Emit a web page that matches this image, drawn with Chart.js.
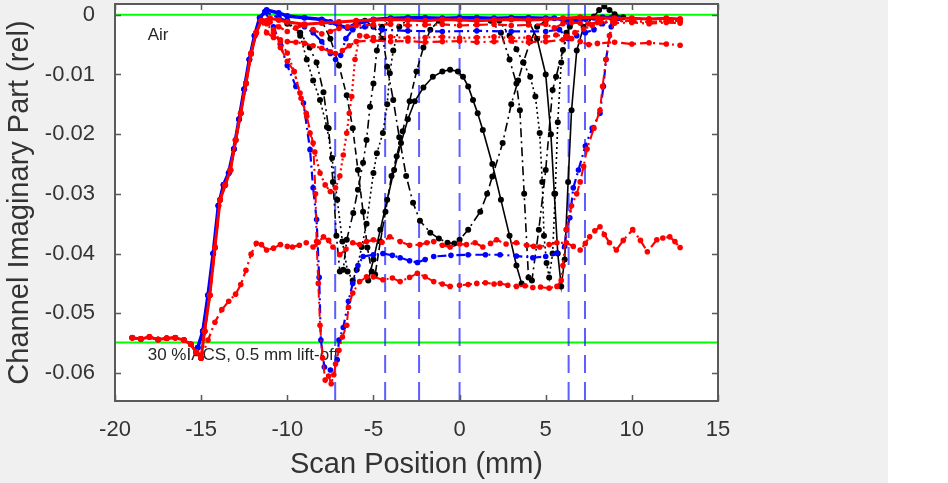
<!DOCTYPE html>
<html>
<head>
<meta charset="utf-8">
<script src="https://cdn.jsdelivr.net/npm/chart.js@4.4.1/dist/chart.umd.min.js"></script>
<style>
  html, body { margin: 0; padding: 0; background: #fff; }
  canvas { display: block; }
</style>
</head>
<body>
<canvas id="scan" width="948" height="483"></canvas>
<script>
// axis ticks
const xTicks = [-20, -15, -10, -5, 0, 5, 10, 15];
const yTicks = [0, -0.01, -0.02, -0.03, -0.04, -0.05, -0.06];
const xMin = -20, xMax = 15;
const yMin = -0.0647, yMax = 0.0018;

// reference lines
const vlineX = [-7.22, -4.32, -2.35, 0, 6.33, 7.28];
const greenLevels = [0, -0.0549];

// shared start of the red scans (flat on the block, then the edge)
const redLeftX = [-19, -18.5, -18, -17.5, -17, -16.5, -16, -15.6, -15.3, -15.0];
const redLeftY = [-0.0541, -0.0543, -0.0540, -0.0544, -0.0542, -0.0541, -0.0545, -0.0552, -0.0565, -0.0575];
const redRampX = [-14.8, -14.5, -14.2, -13.9, -13.6, -13.3, -13.0, -12.7, -12.4, -12.1, -11.8, -11.5];
const redRampY = [-0.053, -0.047, -0.039, -0.031, -0.0285, -0.026, -0.021, -0.0165, -0.0115, -0.0065, -0.003, -0.001];

const blueRampX = [-15.2, -14.9, -14.6, -14.3, -14.0, -13.7, -13.4, -13.1, -12.8, -12.5, -12.2, -11.9, -11.6];
const blueRampY = [-0.0558, -0.053, -0.047, -0.040, -0.032, -0.0285, -0.0265, -0.0225, -0.0175, -0.0125, -0.0075, -0.0035, -0.0005];

// red scans after the edge
const redTopX = [-11.0, -10.5, -10.0, -9, -8, -7, -6, -5, -4, -3, -2, -1, 0, 1, 2, 3, 4, 5, 6, 7, 8, 9, 10, 11, 12, 12.8];
const redTopY = [-0.0006, -0.0009, -0.0012, -0.0016, -0.0014, -0.0012, -0.001, -0.0009, -0.0008, -0.0009, -0.001, -0.0008, -0.0009, -0.001, -0.0009, -0.0008, -0.0009, -0.0008, -0.0006, -0.0004, -0.0005, -0.0006, -0.0006, -0.0007, -0.0006, -0.0007];

const redMidX = [-11.0, -10.5, -10.0, -9.5, -9.0, -8.5, -8.0, -7.5, -7.0, -6.5, -6.0, -5, -4, -3, -2, -1, 0, 1, 2, 3, 4, 5, 5.5, 6, 6.5, 7, 7.5, 8, 9, 10, 11, 12, 12.8];
const redMidY = [-0.0012, -0.002, -0.0028, -0.0022, -0.0018, -0.0025, -0.0032, -0.0028, -0.0023, -0.002, -0.0018, -0.0017, -0.0016, -0.0018, -0.0017, -0.0016, -0.0018, -0.0017, -0.0016, -0.0018, -0.0017, -0.0016, -0.0022, -0.0015, -0.0013, -0.0014, -0.0015, -0.0013, -0.0014, -0.0013, -0.0015, -0.0013, -0.0014];

const redLowX = [-11.2, -10.8, -10.4, -10, -9.5, -9, -8.5, -8, -7.5, -7.2, -6.8, -6.4, -6, -5, -4, -3, -2, -1, 0, 1, 2, 3, 4, 5, 6, 6.5, 7, 7.5, 8, 9, 10, 11, 12, 12.8];
const redLowY = [-0.003, -0.0038, -0.0042, -0.0045, -0.0046, -0.0048, -0.0052, -0.0056, -0.0062, -0.0065, -0.006, -0.0052, -0.0045, -0.0043, -0.0045, -0.0044, -0.0046, -0.0045, -0.0044, -0.0046, -0.0045, -0.0044, -0.0046, -0.0045, -0.0042, -0.004, -0.0045, -0.005, -0.0048, -0.0046, -0.0049, -0.0047, -0.0049, -0.0051];

const redVX = [-11.2, -10.8, -10.4, -10.0, -9.6, -9.26, -8.9, -8.68, -8.4, -8.1, -7.8, -7.5, -7.2, -6.95, -6.75, -6.55, -6.4, -6.26, -6.07, -5.8, -5.4, -5, -4, -3, -2, -1, 0, 1, 2, 3, 4, 5, 5.6, 6.2, 6.7, 7.2, 7.7, 8.2, 9, 10, 11, 12, 12.8];
const redVY = [-0.0012, -0.0025, -0.0045, -0.0064, -0.0095, -0.0131, -0.0165, -0.0198, -0.023, -0.0265, -0.0285, -0.0296, -0.029, -0.027, -0.0235, -0.0198, -0.0165, -0.0137, -0.0075, -0.0035, -0.0036, -0.0038, -0.0037, -0.0039, -0.0038, -0.0037, -0.0039, -0.0038, -0.0037, -0.0039, -0.0038, -0.0037, -0.0034, -0.0036, -0.003, -0.0024, -0.0018, -0.0012, -0.001, -0.0011, -0.0012, -0.0011, -0.001];

const redDeepX = [-11.2, -10.8, -10.4, -10.0, -9.6, -9.2, -8.87, -8.5, -8.36, -8.3, -8.2, -8.1, -7.95, -7.8, -7.6, -7.45, -7.3, -7.2, -7.0, -6.8, -6.55, -6.45, -6.2, -5.8, -5.4, -5.0, -4.45, -3.9, -3.45, -2.9, -2.45, -2.0, -1.5, -1.0, -0.55, 0, 0.5, 1.0, 1.5, 2.0, 2.35, 2.8, 3.3, 3.8, 4.25, 4.7, 5.2, 5.65, 5.9, 6.0, 6.2, 6.5, 6.8, 7.0, 7.2, 7.4, 7.8, 8.15, 8.3, 8.5, 8.7, 9.0, 10, 11, 12, 12.8];
const redDeepY = [-0.0015, -0.003, -0.0055, -0.0078, -0.0095, -0.014, -0.017, -0.0215, -0.030, -0.038, -0.045, -0.052, -0.0575, -0.0612, -0.0605, -0.0618, -0.0603, -0.0585, -0.0562, -0.054, -0.052, -0.049, -0.0466, -0.0447, -0.0439, -0.0439, -0.0444, -0.0441, -0.0447, -0.044, -0.0433, -0.0439, -0.0447, -0.0451, -0.0455, -0.0453, -0.0452, -0.045, -0.0449, -0.0451, -0.045, -0.0453, -0.0455, -0.0454, -0.0457, -0.0456, -0.0458, -0.0455, -0.0445, -0.042, -0.036, -0.032, -0.030, -0.028, -0.0254, -0.0225, -0.019, -0.016, -0.012, -0.0075, -0.0035, -0.0012, -0.001, -0.0012, -0.001, -0.0011];

// red scan with the slow rise (starts on the flat part)
const redSlowX = [-14.6, -14.2, -13.8, -13.4, -13.0, -12.7, -12.4, -12.1, -11.8, -11.5, -11.2, -10.8, -10.4, -10.0, -9.7, -9.3, -8.9, -8.5, -8.2, -7.9, -7.6, -7.35, -6.95, -6.6, -6.2, -5.8, -5.4, -5.0, -4.5, -4.05, -3.45, -2.9, -2.3, -1.9, -1.5, -1.0, -0.55, 0, 0.4, 0.9, 1.35, 1.8, 2.15, 2.7, 3.3, 3.9, 4.3, 4.65, 5.2, 5.65, 6.2, 6.6, 7.0, 7.3, 7.55, 7.85, 8.15, 8.4, 8.7, 9.1, 9.5, 10.05, 10.5, 10.9, 11.45, 11.8, 12.2, 12.5, 12.8];
const redSlowY = [-0.0545, -0.0515, -0.0494, -0.048, -0.0468, -0.0452, -0.0428, -0.0401, -0.0383, -0.0385, -0.0394, -0.0391, -0.0385, -0.0388, -0.0389, -0.0386, -0.0382, -0.0389, -0.0381, -0.0372, -0.0378, -0.0389, -0.0402, -0.0393, -0.0382, -0.0385, -0.038, -0.0377, -0.0381, -0.0372, -0.038, -0.0386, -0.0385, -0.0382, -0.038, -0.0386, -0.0389, -0.0384, -0.0385, -0.0382, -0.0389, -0.0383, -0.0377, -0.0384, -0.0382, -0.0386, -0.0388, -0.0389, -0.0385, -0.0382, -0.0382, -0.0388, -0.0394, -0.0383, -0.0372, -0.0362, -0.0355, -0.0368, -0.0382, -0.0394, -0.0378, -0.036, -0.0378, -0.0397, -0.0377, -0.0374, -0.0372, -0.038, -0.039];

// blue scans after the edge
const blueTopX = [-11.2, -10.5, -10, -9, -8, -7.5, -7, -6.5, -6, -5, -4, -3, -2, -1, 0, 1, 2, 3, 4, 5, 5.5, 6, 6.3, 6.8, 7.3, 7.8, 8.3, 8.8, 9.2];
const blueTopY = [0.0008, 0.0003, -0.0002, -0.0005, -0.0008, -0.0012, -0.0018, -0.0022, -0.0015, -0.0008, -0.0006, -0.0005, -0.0005, -0.0006, -0.0005, -0.0005, -0.0006, -0.0005, -0.0005, -0.0006, -0.0006, -0.0008, -0.0012, -0.0009, -0.0007, -0.0005, -0.0004, -0.0005, -0.0006];

const blueDipX = [-11.3, -10.5, -10, -9, -8.5, -8, -7.5, -7.2, -6.9, -6.6, -6.2, -5.5, -4.5, -3, -1, 1, 3, 5, 5.8, 6.3, 6.8, 7.3, 7.8, 8.3, 9];
const blueDipY = [0.0005, -0.0005, -0.001, -0.002, -0.003, -0.0045, -0.0065, -0.0075, -0.0068, -0.004, -0.0025, -0.002, -0.0025, -0.0027, -0.0028, -0.0027, -0.0028, -0.0028, -0.0025, -0.004, -0.0035, -0.003, -0.0025, -0.0015, -0.0008];

const blueDeepX = [-11.3, -10.8, -10.4, -10, -9.5, -9.06, -8.68, -8.5, -8.3, -8.15, -8.05, -7.85, -7.5, -7.1, -7.0, -6.75, -6.45, -6.2, -5.9, -5.6, -5.0, -4.45, -3.9, -3.45, -2.9, -2.45, -2.0, -1.5, -0.5, 0.5, 1.5, 2.35, 3.3, 4.25, 5.0, 5.65, 6.1, 6.2, 6.4, 6.6, 6.9, 7.3, 7.7, 8.15, 8.35, 8.5, 8.8, 9.0];
const blueDeepY = [0.0005, -0.002, -0.005, -0.0085, -0.012, -0.0148, -0.0226, -0.029, -0.0343, -0.044, -0.0545, -0.059, -0.0595, -0.0578, -0.0545, -0.0524, -0.048, -0.045, -0.042, -0.0405, -0.0402, -0.040, -0.0403, -0.0407, -0.0412, -0.0415, -0.041, -0.0405, -0.0403, -0.0402, -0.0402, -0.0402, -0.0404, -0.0407, -0.0405, -0.0399, -0.0388, -0.036, -0.034, -0.029, -0.026, -0.022, -0.019, -0.0165, -0.012, -0.0075, -0.002, -0.0008];

// black channel responses
const blackAX = [-10.5, -10, -9.25, -8.7, -8.3, -7.9, -7.6, -7.35, -7.15, -6.95, -6.75, -6.55, -6.17, -5.9, -5.6, -5.4, -5.2, -5.0, -4.8, -4.5, -4.0, -3.0];
const blackAY = [-0.0005, -0.0015, -0.003, -0.0055, -0.008, -0.013, -0.019, -0.028, -0.037, -0.043, -0.0427, -0.0377, -0.0332, -0.0293, -0.0248, -0.021, -0.0154, -0.0115, -0.006, -0.002, -0.0008, -0.0006];

const blackBX = [-10, -9.25, -8.87, -8.5, -8.1, -7.7, -7.4, -7.1, -6.8, -6.5, -6.2, -5.97, -5.68, -5.4, -5.0, -4.8, -4.45, -4.2, -4.05, -3.85, -3.5, -3.0];
const blackBY = [-0.001, -0.0035, -0.0075, -0.011, -0.0143, -0.0188, -0.024, -0.031, -0.038, -0.043, -0.0445, -0.0427, -0.0389, -0.035, -0.0265, -0.0232, -0.0198, -0.015, -0.0098, -0.006, -0.002, -0.0008];

const blackCX = [-8.0, -7.5, -7.0, -6.55, -6.2, -5.9, -5.6, -5.35, -5.1, -4.9, -4.6, -4.3, -3.95, -3.65, -3.3, -2.9, -2.5, -2.1, -1.7, -1.2];
const blackCY = [-0.001, -0.004, -0.0085, -0.0135, -0.019, -0.026, -0.033, -0.039, -0.043, -0.0435, -0.038, -0.033, -0.027, -0.0237, -0.0195, -0.0145, -0.0095, -0.0055, -0.0025, -0.001];

const blackUX = [-5.5, -5.0, -4.45, -4.2, -3.85, -3.5, -3.1, -2.7, -2.3, -1.7, -1.2, -0.7, -0.3, 0, 0.5, 1.2, 1.6, 1.9, 2.5, 3.0, 3.4, 3.7, 4.1, 4.5, 5.0];
const blackUY = [-0.001, -0.002, -0.004, -0.0087, -0.0143, -0.0205, -0.027, -0.0315, -0.0345, -0.0365, -0.0375, -0.0382, -0.0383, -0.0377, -0.036, -0.033, -0.030, -0.0271, -0.0215, -0.015, -0.011, -0.008, -0.0045, -0.002, -0.001];

const blackArchX = [-5.3, -5.0, -4.6, -4.2, -3.8, -3.4, -3.0, -2.6, -2.1, -1.55, -1.0, -0.55, -0.1, 0.2, 0.5, 0.78, 1.05, 1.35, 1.9, 2.4, 2.9, 3.3, 3.6];
const blackArchY = [-0.0445, -0.041, -0.036, -0.031, -0.026, -0.0215, -0.0175, -0.0145, -0.0122, -0.0104, -0.0095, -0.0092, -0.0095, -0.0104, -0.012, -0.0143, -0.0165, -0.0193, -0.025, -0.031, -0.037, -0.042, -0.045];

const blackDX = [2.3, 2.9, 3.3, 3.7, 4.1, 4.4, 4.65, 4.8, 4.9, 5.05, 5.2, 5.4, 5.55, 5.7, 5.9, 6.2, 6.6];
const blackDY = [-0.001, -0.0035, -0.0058, -0.008, -0.0104, -0.0137, -0.0198, -0.028, -0.037, -0.0416, -0.044, -0.040, -0.030, -0.018, -0.008, -0.003, -0.001];

const blackEX = [1.8, 2.4, 2.9, 3.3, 3.5, 3.75, 4.0, 4.2, 4.6, 5.0, 5.4, 5.6, 6.0, 6.4, 7.0];
const blackEY = [-0.001, -0.003, -0.0075, -0.0115, -0.016, -0.03, -0.044, -0.0445, -0.036, -0.026, -0.0126, -0.0104, -0.0059, -0.002, -0.0008];

const blackFX = [4.0, 4.5, 5.0, 5.3, 5.5, 5.7, 5.9, 6.1, 6.3, 6.5, 6.8, 7.2, 7.8, 8.1, 8.4, 8.7, 9.0, 9.5];
const blackFY = [-0.001, -0.004, -0.01, -0.02, -0.03, -0.040, -0.0455, -0.041, -0.028, -0.016, -0.006, -0.002, -0.0003, 0.0008, 0.0014, 0.0008, 0.0001, -0.0004];

function pts(xs, ys) {
    return xs.map((x, i) => ({ x: x, y: ys[i] }));
}

const dashDot = [9, 4, 2, 4];
const dotted = [2, 3];
const dashed = [7, 4];

function scanSet(data, color, dash, order, width, radius) {
    return {
        data: data,
        borderColor: color,
        backgroundColor: color,
        borderWidth: width,
        borderDash: dash,
        pointRadius: radius,
        pointBorderWidth: 0,
        pointBackgroundColor: color,
        tension: 0,
        order: order
    };
}

const datasets = [];

// vertical channel markers and green levels, drawn under the scans
vlineX.forEach(v => {
    datasets.push({
        data: [{ x: v, y: yMax }, { x: v, y: yMin }],
        borderColor: 'rgba(40, 40, 255, 0.75)',
        borderWidth: 2,
        borderDash: [18, 9],
        pointRadius: 0,
        order: 10
    });
});
greenLevels.forEach(g => {
    datasets.push({
        data: [{ x: xMin, y: g }, { x: xMax, y: g }],
        borderColor: '#00ff00',
        borderWidth: 2,
        pointRadius: 0,
        order: 10
    });
});

const red = '#ff0000', blue = '#0000ff', black = '#000000';

datasets.push(scanSet(pts(redLeftX.concat(redRampX, redTopX), redLeftY.concat(redRampY, redTopY)), red, [], 1, 3, 3));
datasets.push(scanSet(pts(redLeftX.concat(redRampX, redMidX), redLeftY.concat(redRampY, redMidY)), red, dashDot, 1, 2.2, 2.8));
datasets.push(scanSet(pts(redLeftX.concat(redRampX, redLowX), redLeftY.concat(redRampY, redLowY)), red, dashDot, 1, 2.2, 2.8));
datasets.push(scanSet(pts(redLeftX.concat(redRampX, redVX), redLeftY.concat(redRampY, redVY)), red, dotted, 1, 2.2, 2.8));
datasets.push(scanSet(pts(redLeftX.concat(redRampX, redDeepX), redLeftY.concat(redRampY, redDeepY)), red, dashDot, 1, 2, 2.8));
datasets.push(scanSet(pts(redLeftX.concat(redSlowX), redLeftY.concat(redSlowY)), red, dashDot, 1, 2.2, 2.8));

datasets.push(scanSet(pts(blueRampX.concat(blueTopX), blueRampY.concat(blueTopY)), blue, [], 2, 3.5, 3));
datasets.push(scanSet(pts(blueRampX.concat(blueDipX), blueRampY.concat(blueDipY)), blue, dashDot, 2, 2.2, 2.8));
datasets.push(scanSet(pts(blueRampX.concat(blueDeepX), blueRampY.concat(blueDeepY)), blue, dashDot, 2, 2.2, 2.8));

datasets.push(scanSet(pts(blackAX, blackAY), black, dashDot, 3, 1.6, 3));
datasets.push(scanSet(pts(blackBX, blackBY), black, dotted, 3, 1.6, 3));
datasets.push(scanSet(pts(blackCX, blackCY), black, dashed, 3, 1.6, 3));
datasets.push(scanSet(pts(blackUX, blackUY), black, dashDot, 3, 1.6, 3));
datasets.push(scanSet(pts(blackArchX, blackArchY), black, [], 3, 1.6, 3));
datasets.push(scanSet(pts(blackDX, blackDY), black, dotted, 3, 1.6, 3));
datasets.push(scanSet(pts(blackEX, blackEY), black, dashDot, 3, 1.6, 3));
datasets.push(scanSet(pts(blackFX, blackFY), black, [], 3, 1.6, 3));

// figure background: grey panel, white strip on the right
const backgroundPlugin = {
    id: 'figureBackground',
    beforeDraw(chart) {
        const { ctx, chartArea: a } = chart;
        ctx.save();
        ctx.fillStyle = '#ffffff';
        ctx.fillRect(0, 0, chart.width, chart.height);
        ctx.fillStyle = '#f0f0f0';
        ctx.fillRect(0, 0, 888, chart.height);
        ctx.fillStyle = '#ffffff';
        ctx.fillRect(a.left, a.top, a.right - a.left, a.bottom - a.top);
        ctx.restore();
    }
};

// text labels inside the axes, under the data
const notesPlugin = {
    id: 'notes',
    beforeDatasetsDraw(chart) {
        const { ctx, scales: { x, y } } = chart;
        ctx.save();
        ctx.fillStyle = '#262626';
        ctx.font = '17px "Liberation Sans", Arial, sans-serif';
        ctx.textAlign = 'left';
        ctx.textBaseline = 'middle';
        ctx.fillText('Air', x.getPixelForValue(-18.1), y.getPixelForValue(-0.0034));
        ctx.fillText('30 %IACS, 0.5 mm lift-off', x.getPixelForValue(-18.1), y.getPixelForValue(-0.0570));
        ctx.restore();
    }
};

// MATLAB style box with inward ticks
const boxPlugin = {
    id: 'axesBox',
    afterDraw(chart) {
        const { ctx, chartArea: a, scales: { x, y } } = chart;
        ctx.save();
        ctx.strokeStyle = '#5a5a5a';
        ctx.lineWidth = 1.5;
        ctx.beginPath();
        xTicks.forEach(v => {
            const px = Math.round(x.getPixelForValue(v)) + 0.5;
            ctx.moveTo(px, a.bottom); ctx.lineTo(px, a.bottom - 6);
            ctx.moveTo(px, a.top); ctx.lineTo(px, a.top + 6);
        });
        yTicks.forEach(v => {
            const py = Math.round(y.getPixelForValue(v)) + 0.5;
            ctx.moveTo(a.left, py); ctx.lineTo(a.left + 6, py);
            ctx.moveTo(a.right, py); ctx.lineTo(a.right - 6, py);
        });
        ctx.stroke();
        ctx.lineWidth = 2;
        ctx.strokeRect(a.left, a.top, a.right - a.left, a.bottom - a.top);
        ctx.restore();
    }
};

Chart.defaults.font.family = '"Liberation Sans", Arial, Helvetica, sans-serif';
Chart.defaults.color = '#333333';

new Chart(document.getElementById('scan').getContext('2d'), {
    type: 'line',
    data: { datasets: datasets },
    options: {
        responsive: false,
        animation: false,
        layout: { padding: { left: 0, top: 4, right: 230, bottom: 0 } },
        plugins: {
            legend: { display: false },
            tooltip: { enabled: false }
        },
        scales: {
            x: {
                type: 'linear',
                min: xMin,
                max: xMax,
                grid: { display: false },
                border: { display: false },
                afterFit(scale) {
                    scale.height = 82;
                    scale.paddingLeft = 0;
                    scale.paddingRight = 0;
                },
                afterBuildTicks(scale) { scale.ticks = xTicks.map(v => ({ value: v })); },
                ticks: {
                    padding: 8,
                    maxRotation: 0,
                    font: { size: 22 },
                    color: '#333333',
                    callback: v => String(v)
                },
                title: {
                    display: true,
                    text: 'Scan Position (mm)',
                    font: { size: 29 },
                    color: '#333333',
                    padding: { top: 0, bottom: 1 }
                }
            },
            y: {
                type: 'linear',
                min: yMin,
                max: yMax,
                grid: { display: false },
                border: { display: false },
                afterFit(scale) {
                    scale.width = 115;
                    scale.paddingTop = 0;
                    scale.paddingBottom = 0;
                },
                afterBuildTicks(scale) { scale.ticks = yTicks.map(v => ({ value: v })); },
                ticks: {
                    padding: 12,
                    font: { size: 22 },
                    color: '#333333',
                    callback: v => (Math.abs(v) < 1e-9 ? '0' : v.toFixed(2))
                },
                title: {
                    display: true,
                    text: 'Channel Imaginary Part (rel)',
                    font: { size: 29 },
                    color: '#333333',
                    padding: { top: 3, bottom: 0 }
                }
            }
        }
    },
    plugins: [backgroundPlugin, notesPlugin, boxPlugin]
});
</script>
</body>
</html>
